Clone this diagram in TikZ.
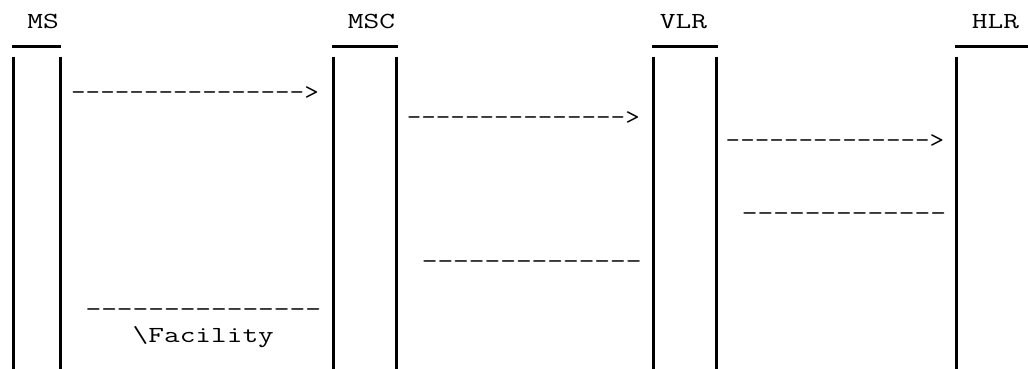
\documentclass[tikz,border=0pt]{standalone}
\usepackage{fontspec}
\usepackage{graphicx}
\newcommand{\widetxt}[2]{\scalebox{#1}[1]{#2}}
\tikzset{
  txt/.style={font={\ttfamily\fontsize{23}{23}\selectfont}, inner sep=0pt, anchor=base, text=black},
  life/.style={line width=3pt, line cap=butt, black},
}
\begin{document}
\begin{tikzpicture}[x=1pt,y=-1pt]
\useasboundingbox (0,0) rectangle (1028,369);
% headers
\node[txt] (ms)  at (43,28.3)    {\widetxt{1.325}{MS}};
\node[txt] (msc) at (371.5,28.3) {\widetxt{1.325}{MSC}};
\node[txt] (vlr) at (683.5,28.3) {\widetxt{1.325}{VLR}};
\node[txt] (hlr) at (995.5,28.3) {\widetxt{1.325}{HLR}};
% header bars
\draw[life] (12,46.3) -- (61,46.3);
\draw[life] (332,46.3) -- (397.5,46.3);
\draw[life] (652,46.3) -- (717.5,46.3);
\draw[life] (955,46.3) -- (1028,46.3);
% lifelines
\draw[life] (13.5,56.7) -- (13.5,369);
\draw[life] (60.5,56.7) -- (60.5,369);
\draw[life] (333.5,56.7) -- (333.5,369);
\draw[life] (396,56.7) -- (396,369);
\draw[life] (653.5,56.7) -- (653.5,369);
\draw[life] (716,56.7) -- (716,369);
\draw[life] (956.5,56.7) -- (956.5,369);
% messages
\node[txt] (m1) at (195,99.7)    {\widetxt{1.23}{---------------{}->}};
\node[txt] (m2) at (523.3,124.1) {\widetxt{1.23}{--------------{}->}};
\node[txt] (m3) at (835,147.7)   {\widetxt{1.23}{-------------{}->}};
\node[txt] (m4) at (844,220.9)   {\widetxt{1.325}{-------------}};
\node[txt] (m5) at (531.7,268.9) {\widetxt{1.325}{--------------}};
\node[txt] (m6) at (203.3,316.2) {\widetxt{1.325}{---------------}};
\node[txt] (fac) at (203.3,342.7) {\widetxt{1.325}{\textbackslash Facility}};
\end{tikzpicture}
\end{document}
